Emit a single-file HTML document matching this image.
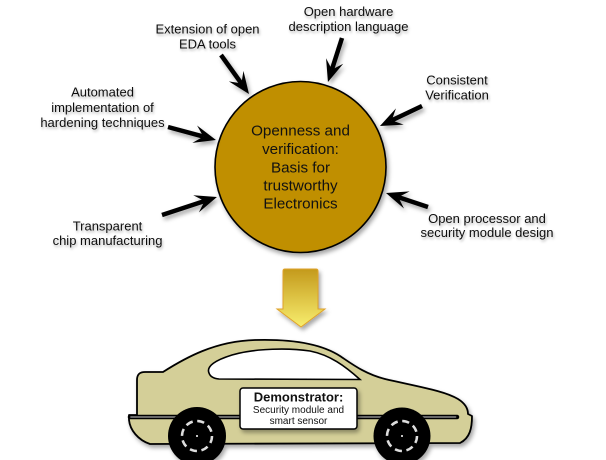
<!DOCTYPE html>
<html><head><meta charset="utf-8"><style>
html,body{margin:0;padding:0;background:#fff;}
svg{display:block;}
text{font-family:"Liberation Sans",Arial,sans-serif;}
</style></head><body>
<svg width="606" height="460" viewBox="0 0 606 460" xmlns="http://www.w3.org/2000/svg">
<defs>
<filter id="sh" x="-20%" y="-20%" width="150%" height="150%">
<feDropShadow dx="2" dy="3" stdDeviation="2" flood-color="#000" flood-opacity="0.35"/>
</filter>
<filter id="tsh" x="-10%" y="-20%" width="130%" height="160%">
<feDropShadow dx="1" dy="2" stdDeviation="1.2" flood-color="#000" flood-opacity="0.3"/>
</filter>
<marker id="ah" viewBox="-24 -11 26 22" refX="-13" refY="0" markerWidth="26" markerHeight="22" markerUnits="userSpaceOnUse" orient="auto">
<path d="M0,0 L-22,-9 L-13,0 L-22,9 Z" fill="#000"/>
</marker>
<linearGradient id="yg" x1="0" y1="0" x2="0" y2="1">
<stop offset="0" stop-color="#C49A1C"/>
<stop offset="1" stop-color="#F8EE6E"/>
</linearGradient>
</defs>

<!-- circle -->
<circle cx="300.5" cy="167" r="85.5" fill="#C08F00" stroke="#000" stroke-width="1.6" filter="url(#sh)"/>
<g font-size="15.2" fill="#111" text-anchor="middle" dominant-baseline="central">
<text x="300.5" y="131">Openness and</text>
<text x="300.5" y="149.5">verification:</text>
<text x="300.5" y="168">Basis for</text>
<text x="300.5" y="186">trustworthy</text>
<text x="300.5" y="204">Electronics</text>
</g>

<!-- arrows -->
<g stroke="#000" stroke-width="4.5" fill="none" marker-end="url(#ah)" filter="url(#sh)">
<line x1="221" y1="55" x2="241.4" y2="83.4"/>
<line x1="342" y1="38" x2="331.9" y2="69.6"/>
<line x1="422" y1="106" x2="391.7" y2="120.4"/>
<line x1="428" y1="207" x2="398.3" y2="197.1"/>
<line x1="168" y1="127" x2="203.4" y2="136.6"/>
<line x1="162" y1="215" x2="204.6" y2="201"/>
</g>

<!-- labels -->
<g font-size="13" fill="#111" text-anchor="middle" dominant-baseline="central" filter="url(#tsh)">
<text x="207.5" y="29">Extension of open</text>
<text x="207.5" y="44">EDA tools</text>
<text x="348.5" y="11.7">Open hardware</text>
<text x="348.5" y="26.7">description language</text>
<text x="102.5" y="92">Automated</text>
<text x="102.5" y="107.3">implementation of</text>
<text x="102.5" y="122.7">hardening techniques</text>
<text x="107.5" y="226">Transparent</text>
<text x="107.5" y="240.7">chip manufacturing</text>
<text x="457" y="80">Consistent</text>
<text x="457" y="95">Verification</text>
<text x="487" y="218.3">Open processor and</text>
<text x="487" y="232.7">security module design</text>
</g>

<!-- yellow arrow -->
<path d="M285,269 L316,269 Q318,269 318,271 L318,309 L325,309 L301,327 L277,309 L283,309 L283,271 Q283,269 285,269 Z" fill="url(#yg)" stroke="#E0A22A" stroke-width="1" filter="url(#sh)"/>

<!-- car -->
<g filter="url(#sh)">
<path d="M137,415 L137,380 C137,375 139,372 145,372 L163,372 C185,358 215,341 255,340 C290,339 320,343 340,356 C352,364 365,374 385,379 C420,387 445,391 458,399 C466,404 468,410 468,414 L472,416 C472,428 470,438 460,443 L150,444 C138,440 130,430 129,420 L129,415 Z" fill="#D4CF98" stroke="#000" stroke-width="1.8" stroke-linejoin="round"/>
<path d="M209,373 C206,366 216,360 232,355 C256,348 290,348 310,351 C330,355 345,366 360,379.5 L219,379 C213,378.5 210,376 209,373 Z" fill="#fff" stroke="#000" stroke-width="1.6"/>
<line x1="130" y1="417" x2="457" y2="417" stroke="#000" stroke-width="4.5" stroke-linecap="round"/>
<line x1="131" y1="417" x2="455.5" y2="417" stroke="#777" stroke-width="1.8" stroke-linecap="round"/>
<circle cx="197" cy="436" r="29" fill="#000"/>
<circle cx="402" cy="436" r="28.5" fill="#000"/>
</g>
<g fill="none" stroke="#ddd" stroke-width="2.5" stroke-dasharray="7.2 4.6">
<circle cx="197" cy="436" r="15"/>
<circle cx="402" cy="436" r="15"/>
</g>
<circle cx="197" cy="436" r="1" fill="#fff"/>
<circle cx="402" cy="436" r="1" fill="#fff"/>

<!-- demonstrator box -->
<rect x="240" y="388" width="117" height="41" rx="3" ry="3" fill="#fff" stroke="#000" stroke-width="1.5" filter="url(#sh)"/>
<g text-anchor="middle" dominant-baseline="central" fill="#111">
<text x="298.5" y="397" font-size="13" font-weight="bold">Demonstrator:</text>
<text x="298.5" y="410.7" font-size="10">Security module and</text>
<text x="298.5" y="421.7" font-size="10">smart sensor</text>
</g>
</svg>
</body></html>
